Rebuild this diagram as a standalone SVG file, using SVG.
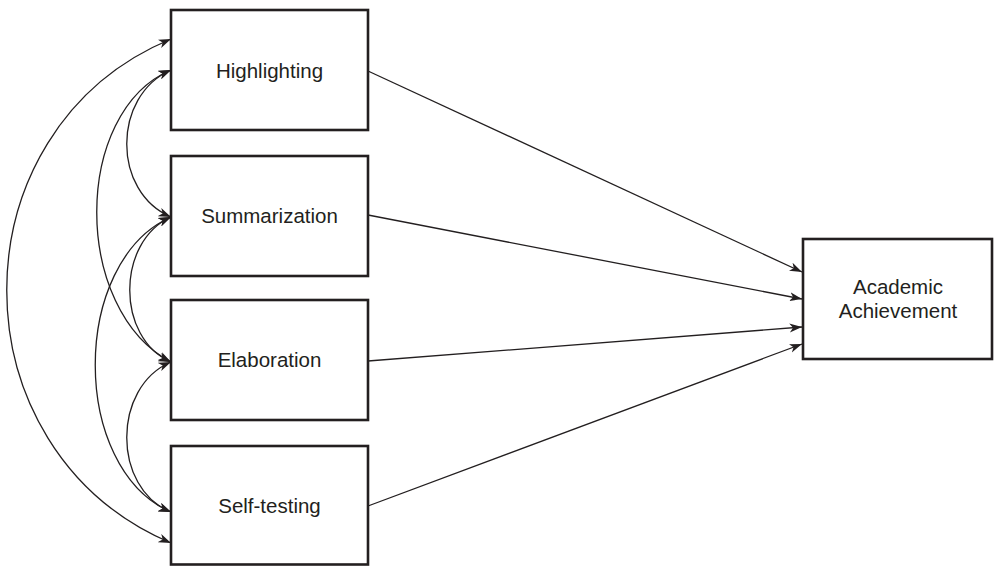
<svg xmlns="http://www.w3.org/2000/svg" width="994" height="566" viewBox="0 0 994 566">
  <style>
    .box { fill: #ffffff; stroke: #231f20; stroke-width: 2.6; }
    .lbl { font-family: "Liberation Sans", Arial, sans-serif; font-size: 20.5px; fill: #231f20; text-anchor: middle; }
    .path { fill: none; stroke: #231f20; stroke-width: 1.3; marker-end: url(#arr); }
    .cov { fill: none; stroke: #231f20; stroke-width: 1.3; marker-start: url(#arr); marker-end: url(#arr); }
  </style>
  <defs>
    <marker id="arr" viewBox="0 0 13 10" refX="12.5" refY="5" markerWidth="13" markerHeight="10" markerUnits="userSpaceOnUse" orient="auto-start-reverse">
      <path d="M0,0.5 L12.5,5 L0,9.5 L3.5,5 Z" fill="#231f20"/>
    </marker>
  </defs>
  <rect width="994" height="566" fill="#ffffff"/>

  <g id="connectors">
    <path class="path" d="M368,71 L802,272"/>
    <path class="path" d="M368,215 L802,299"/>
    <path class="path" d="M368,361 L802,327"/>
    <path class="path" d="M368,506 L802,344"/>

    <path class="cov" d="M171,70 C112,96 112,192 171,217"/>
    <path class="cov" d="M171,70 C72,112 72,310 171,362"/>
    <path class="cov" d="M171,39 C-48,130 -48,450 171,543"/>
    <path class="cov" d="M171,217 C116,242 116,338 171,362"/>
    <path class="cov" d="M171,217 C70,262 70,468 171,512"/>
    <path class="cov" d="M171,362 C112,387 112,488 171,512"/>
  </g>

  <g id="highlighting">
    <rect class="box" x="171" y="10" width="197" height="120"/>
    <text class="lbl" x="269.5" y="77.5">Highlighting</text>
  </g>
  <g id="summarization">
    <rect class="box" x="171" y="156" width="197" height="120"/>
    <text class="lbl" x="269.5" y="223">Summarization</text>
  </g>
  <g id="elaboration">
    <rect class="box" x="171" y="300" width="197" height="120"/>
    <text class="lbl" x="269.5" y="367">Elaboration</text>
  </g>
  <g id="self-testing">
    <rect class="box" x="171" y="446" width="197" height="118.5"/>
    <text class="lbl" x="269.5" y="513">Self-testing</text>
  </g>
  <g id="academic-achievement">
    <rect class="box" x="803" y="239" width="189" height="120"/>
    <text class="lbl" x="898" y="294">Academic</text>
    <text class="lbl" x="898" y="318">Achievement</text>
  </g>
</svg>
